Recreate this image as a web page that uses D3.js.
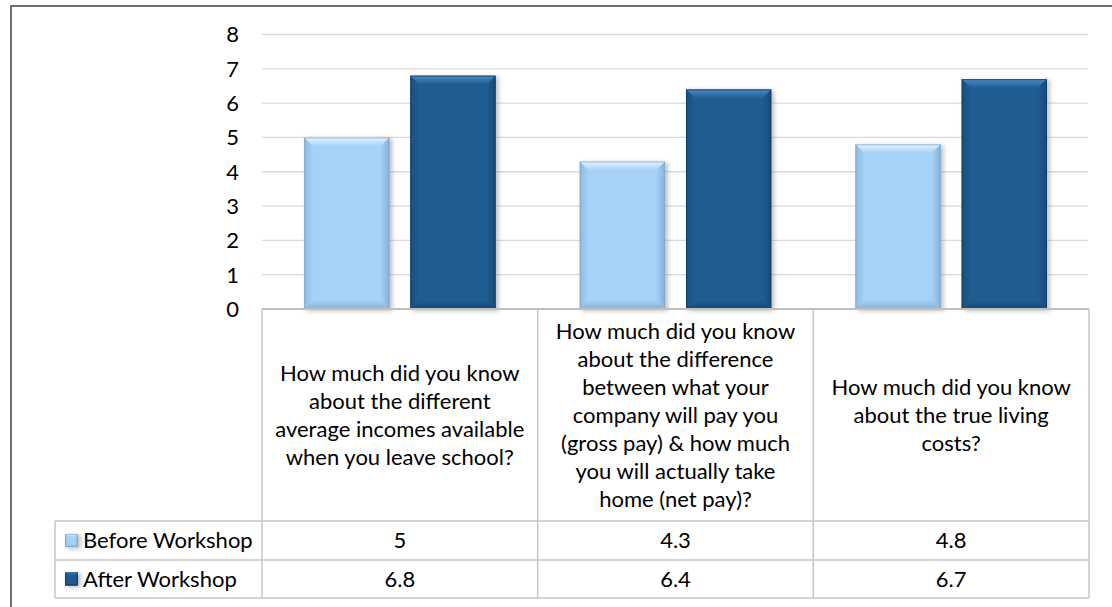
<!DOCTYPE html>
<html>
<head>
<meta charset="utf-8">
<script src="https://cdn.jsdelivr.net/npm/d3@7"></script>
<style>
  html, body { margin: 0; padding: 0; background: #ffffff; }
  svg { display: block; }
  text { font-family: Lato, "Noto Sans", sans-serif; fill: #000; }
</style>
</head>
<body>
<svg id="chart" width="1112" height="607"></svg>
<script>
// ---- data ----
const categories = ["Q1", "Q2", "Q3"];
const categoryLines = [
  ["How much did you know", "about the different", "average incomes available", "when you leave school?"],
  ["How much did you know", "about the difference", "between what your", "company will pay you", "(gross pay) & how much", "you will actually take", "home (net pay)?"],
  ["How much did you know", "about the true living", "costs?"]
];
const seriesNames = ["Before Workshop", "After Workshop"];
const beforeValues = [5, 4.3, 4.8];
const afterValues = [6.8, 6.4, 6.7];
const yTicks = [0, 1, 2, 3, 4, 5, 6, 7, 8];

// ---- layout ----
const plotLeft = 262, plotRight = 1089;
const plotTop = 34.5, plotBottom = 309;
const rowH = [309, 521, 560, 598];     // category row / before row / after row boundaries
const tableLeft = 55;
const fontSize = 22;

const palette = {
  "Before Workshop": { fill: "#a7d2f7", light: "#e3f3fe", dark: "#86b2d8", edge: "#7fa6c8" },
  "After Workshop":  { fill: "#1f5c91", light: "#4a8ac4", dark: "#174a78", edge: "#123a5e" }
};

const svg = d3.select("#chart");
const defs = svg.append("defs");
defs.append("filter").attr("id", "shadow").attr("x", "-20%").attr("y", "-20%").attr("width", "140%").attr("height", "140%")
  .append("feGaussianBlur").attr("stdDeviation", 2.2);

// gradients for bevel faces
seriesNames.forEach((s, i) => {
  const c = palette[s];
  const gTop = defs.append("linearGradient").attr("id", "top" + i).attr("x1", 0).attr("y1", 0).attr("x2", 0).attr("y2", 1);
  gTop.append("stop").attr("offset", 0).attr("stop-color", c.light);
  gTop.append("stop").attr("offset", 1).attr("stop-color", c.fill);
  const gL = defs.append("linearGradient").attr("id", "left" + i).attr("x1", 0).attr("y1", 0).attr("x2", 1).attr("y2", 0);
  gL.append("stop").attr("offset", 0).attr("stop-color", c.dark);
  gL.append("stop").attr("offset", 1).attr("stop-color", c.fill);
  const gR = defs.append("linearGradient").attr("id", "right" + i).attr("x1", 1).attr("y1", 0).attr("x2", 0).attr("y2", 0);
  gR.append("stop").attr("offset", 0).attr("stop-color", c.dark);
  gR.append("stop").attr("offset", 1).attr("stop-color", c.fill);
  const gB = defs.append("linearGradient").attr("id", "bottom" + i).attr("x1", 0).attr("y1", 1).attr("x2", 0).attr("y2", 0);
  gB.append("stop").attr("offset", 0).attr("stop-color", c.dark);
  gB.append("stop").attr("offset", 1).attr("stop-color", c.fill);
});

// ---- scales ----
const x0 = d3.scaleBand().domain(categories).range([plotLeft, plotRight]).padding(0);
const x1 = d3.scaleBand().domain(seriesNames).range([0, x0.bandwidth()])
  .paddingInner(0.198).paddingOuter(0.396);
const y = d3.scaleLinear().domain([0, 8]).range([plotBottom, plotTop]);

// ---- outer frame ----
svg.append("rect").attr("x", 11).attr("y", 6).attr("width", 1130).attr("height", 640)
  .attr("fill", "none").attr("stroke", "#404040").attr("stroke-width", 1.5);

// ---- gridlines ----
svg.append("g").selectAll("line").data(yTicks.filter(d => d > 0)).join("line")
  .attr("x1", plotLeft).attr("x2", plotRight - 1)
  .attr("y1", d => y(d)).attr("y2", d => y(d))
  .attr("stroke", "#d9d9d9").attr("stroke-width", 1.3);

// ---- y axis labels ----
const yAxis = d3.axisLeft(y).tickValues(yTicks).tickSize(0).tickPadding(0);
const yg = svg.append("g").attr("transform", "translate(239,0)").call(yAxis);
yg.select(".domain").remove();
yg.selectAll("text").style("font-family", "Lato, 'Noto Sans', sans-serif")
  .style("font-size", fontSize + "px").attr("fill", "#000").attr("dy", "0.34em");

// ---- bars ----
const rows = categories.map((c, i) => ({ cat: c, vals: [beforeValues[i], afterValues[i]] }));
const bevel = 9;

function drawBar(g, x, yTop, w, h, si, b) {
  const bb = Math.min(b, h / 2, w / 2);
  g.append("rect").attr("x", x + 2).attr("y", yTop + 1).attr("width", w + 1).attr("height", h + 1)
    .attr("fill", "#7a7a7a").attr("opacity", 0.45).attr("filter", "url(#shadow)");
  g.append("rect").attr("x", x).attr("y", yTop).attr("width", w).attr("height", h)
    .attr("fill", palette[seriesNames[si]].fill);
  const pts = (arr) => arr.map(p => p.join(",")).join(" ");
  g.append("polygon").attr("points", pts([[x, yTop], [x + w, yTop], [x + w - bb, yTop + bb], [x + bb, yTop + bb]]))
    .attr("fill", `url(#top${si})`);
  g.append("polygon").attr("points", pts([[x, yTop], [x + bb, yTop + bb], [x + bb, yTop + h - bb], [x, yTop + h]]))
    .attr("fill", `url(#left${si})`).attr("opacity", 0.75);
  g.append("polygon").attr("points", pts([[x + w, yTop], [x + w, yTop + h], [x + w - bb, yTop + h - bb], [x + w - bb, yTop + bb]]))
    .attr("fill", `url(#right${si})`);
  g.append("polygon").attr("points", pts([[x, yTop + h], [x + bb, yTop + h - bb], [x + w - bb, yTop + h - bb], [x + w, yTop + h]]))
    .attr("fill", `url(#bottom${si})`);
  g.append("rect").attr("x", x + 0.5).attr("y", yTop + 0.5).attr("width", w - 1).attr("height", h - 1)
    .attr("fill", "none").attr("stroke", palette[seriesNames[si]].edge).attr("stroke-width", 1).attr("opacity", 0.7);
}

const barLayer = svg.append("g");
rows.forEach(r => {
  r.vals.forEach((v, si) => {
    const x = x0(r.cat) + x1(seriesNames[si]);
    drawBar(barLayer, x, y(v), x1.bandwidth(), y(0) - y(v), si, bevel);
  });
});

// ---- data table ----
const tableStroke = "#c6c6c6";
const tbl = svg.append("g");
// horizontal lines
tbl.append("line").attr("x1", plotLeft).attr("x2", plotRight).attr("y1", rowH[0]).attr("y2", rowH[0])
  .attr("stroke", "#bfbfbf").attr("stroke-width", 2);
[rowH[1], rowH[2], rowH[3]].forEach(yy => {
  tbl.append("line").attr("x1", tableLeft).attr("x2", plotRight).attr("y1", yy).attr("y2", yy)
    .attr("stroke", tableStroke).attr("stroke-width", 1.5);
});
// vertical lines
const colEdges = categories.map(c => x0(c)).concat([plotRight]);
colEdges.forEach(xx => {
  tbl.append("line").attr("x1", xx).attr("x2", xx).attr("y1", rowH[0]).attr("y2", rowH[3])
    .attr("stroke", tableStroke).attr("stroke-width", 1.5);
});
tbl.append("line").attr("x1", tableLeft).attr("x2", tableLeft).attr("y1", rowH[1]).attr("y2", rowH[3])
  .attr("stroke", tableStroke).attr("stroke-width", 1.5);

// category labels
const lineH = 28;
const catMid = (rowH[0] + rowH[1]) / 2;
categories.forEach((c, i) => {
  const lines = categoryLines[i];
  const t = tbl.append("text").attr("text-anchor", "middle").style("font-size", fontSize + "px");
  const cx = x0(c) + x0.bandwidth() / 2;
  lines.forEach((ln, k) => {
    t.append("tspan").attr("x", cx)
      .attr("y", catMid + (k - (lines.length - 1) / 2) * lineH)
      .attr("dy", "0.36em").text(ln);
  });
});

// series rows: legend key, name, values
const seriesValues = [beforeValues, afterValues];
seriesNames.forEach((s, si) => {
  const top = rowH[si + 1], bot = rowH[si + 2];
  const mid = (top + bot) / 2;
  const keyG = tbl.append("g");
  drawBar(keyG, 65, mid - 6.5, 13, 13, si, 3);
  tbl.append("text").attr("x", 83).attr("y", mid).attr("dy", "0.36em")
    .style("font-size", fontSize + "px").text(s);
  categories.forEach((c, ci) => {
    tbl.append("text").attr("x", x0(c) + x0.bandwidth() / 2).attr("y", mid).attr("dy", "0.36em")
      .attr("text-anchor", "middle").style("font-size", fontSize + "px")
      .text(seriesValues[si][ci]);
  });
});
</script>
</body>
</html>
